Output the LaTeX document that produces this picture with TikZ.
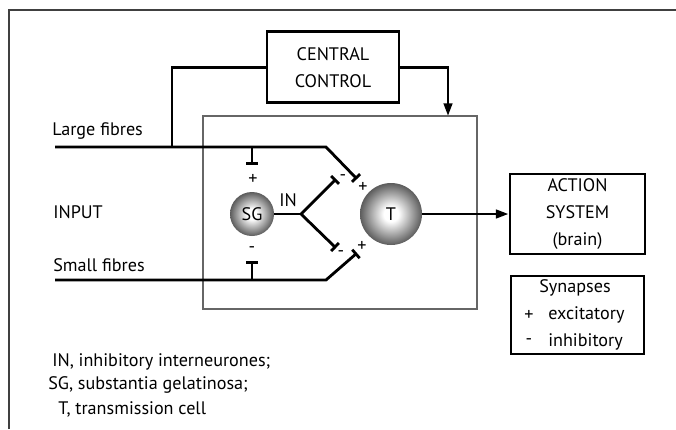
\documentclass[tikz,border=0pt]{standalone}
\usepackage{fontspec}
\setmainfont{PT Sans}
\usetikzlibrary{arrows.meta}
\pgfdeclareradialshading{cellball}{\pgfpointorigin}{color(0bp)=(white); color(6bp)=(white); color(25bp)=(black!64); color(50bp)=(black!64)}
\tikzset{
  fibre/.style={line width=2pt},
  synbar/.style={fibre, -{Bar[width=8pt]}},
  pointer/.style={fibre, -{Triangle[length=9pt,width=6pt]}},
  cell/.style={circle, inner sep=0pt, shading=cellball},
  box/.style={draw, line width=2pt, align=center, inner sep=0pt},
}
\begin{document}
\begin{tikzpicture}[font=\fontsize{12.9}{19.5}\selectfont]
        \useasboundingbox (0,0) rectangle (16.9,10.725);
        %frame
        \draw[line width=1.2pt, black!75] (0.225,0) -- (0.225,10.475) -- (16.9,10.475);
        \draw[line width=0.8pt, black!60] (5.075,3.0) rectangle (11.925,7.825);

        \node[box, minimum width=3.3cm, minimum height=1.775cm] (CC) at (8.325,9.04) {CENTRAL\\CONTROL};
        \node[box, minimum width=3.375cm, minimum height=2cm] (AS) at (14.4375,5.375) {ACTION\\SYSTEM\\(brain)};
        \node[draw, line width=1pt, minimum width=3.325cm, minimum height=1.95cm] (SY) at (14.4375,2.85) {};
        \node (SYt) at (14.375,3.525) {Synapses};
        \node (SYp) at (13.225,2.85) {+};
        \node[anchor=west, inner sep=0pt] (SYe) at (13.7,2.85) {excitatory};
        \node (SYm) at (13.225,2.175) {-};
        \node[anchor=west, inner sep=0pt] (SYi) at (13.7,2.175) {inhibitory};

        \node[cell, minimum size=1.1cm] (SG) at (6.3,5.375) {SG};
        \node[cell, minimum size=1.55cm] (T) at (9.775,5.375) {T};

        \coordinate (LF) at (1.375,7.05);
        \coordinate (SF) at (1.375,3.725);
        \coordinate (LB) at (8.15,7.05);
        \coordinate (SB) at (8.15,3.725);
        \coordinate (LT) at (8.925,6.25);
        \coordinate (ST) at (8.925,4.4);
        \coordinate (LJ) at (4.3,7.05);
        \coordinate (CT) at (11.2,7.825);
        \coordinate (LS) at (6.3,7.05);
        \coordinate (LSe) at (6.3,6.6);
        \coordinate (SS) at (6.3,3.725);
        \coordinate (SSe) at (6.3,4.2);
        \coordinate (IN) at (7.525,5.375);
        \coordinate (INu) at (8.4,6.25);
        \coordinate (INd) at (8.4,4.525);

        % fibres
        \draw[synbar] (LF) -- (LB) -- (LT);
        \draw[synbar] (SF) -- (SB) -- (ST);
        \draw[synbar] (LS) -- (LSe);
        \draw[synbar] (SS) -- (SSe);
        \draw[fibre] (CC.west) -| (LJ);
        \draw[pointer] (CC.east) -| (CT);
        \draw[fibre] (SG.east) -- (IN);
        \draw[synbar] (IN) -- (INu);
        \draw[synbar] (IN) -- (INd);
        \draw[pointer] (T.east) -- (AS.west);

        \node (pLS) at (6.325,6.25) {+};
        \node (mSS) at (6.3,4.475) {-};
        \node (pLT) at (9.075,6.05) {+};
        \node (pST) at (9.05,4.575) {+};
        \node (mINu) at (8.575,6.275) {-};
        \node (mINd) at (8.525,4.375) {-};
        \node (INl) at (7.2,5.725) {IN};

        \node[anchor=west, inner sep=0pt] (LFl) at (1.3,7.45) {Large fibres};
        \node[anchor=west, inner sep=0pt] (INP) at (1.325,5.425) {INPUT};
        \node[anchor=west, inner sep=0pt] (SFl) at (1.325,4.1) {Small fibres};

        \node[anchor=west, inner sep=0pt] (k1) at (1.3,1.675) {IN, inhibitory interneurones;};
        \node[anchor=west, inner sep=0pt] (k2) at (1.2,1.1) {SG, substantia gelatinosa;};
        \node[anchor=west, inner sep=0pt] (k3) at (1.45,0.5) {T, transmission cell};
\end{tikzpicture}
\end{document}
